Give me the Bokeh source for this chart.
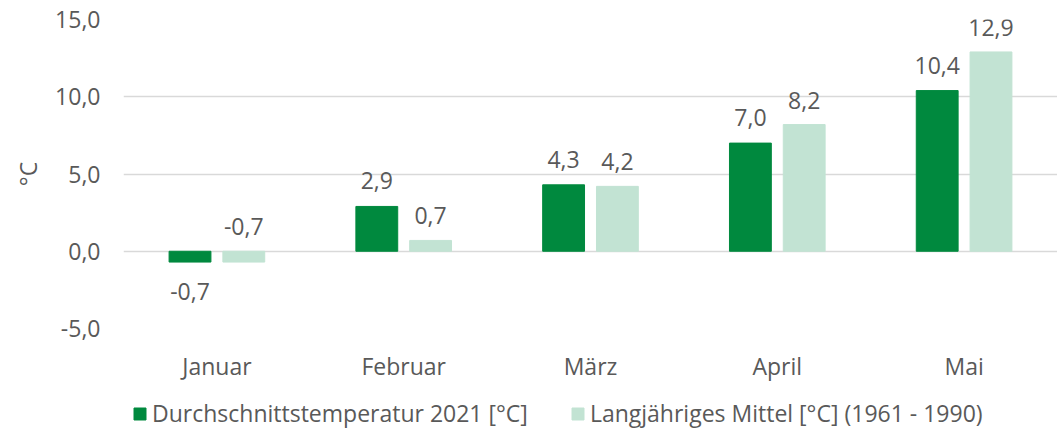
from bokeh.plotting import figure
from bokeh.layouts import column
from bokeh.models import (ColumnDataSource, FactorRange, Range1d, FixedTicker,
                          CustomJSTickFormatter, Legend, LegendItem)
from bokeh.transform import dodge
from bokeh.core.properties import value
from bokeh.embed import file_html
from bokeh.resources import INLINE

months = ["Januar", "Februar", "März", "April", "Mai"]
temp_2021 = [-0.7, 2.9, 4.3, 7.0, 10.4]
mean_1961_1990 = [-0.7, 0.7, 4.2, 8.2, 12.9]
y_ticks = [-5, 0, 5, 10, 15]
series_names = ["Durchschnittstemperatur 2021 [°C]",
                "Langjähriges Mittel [°C] (1961 - 1990)"]

DARK = "#00893E"
LIGHT = "#C2E3D3"
TEXT = "#595959"
FONT = "Open Sans"
FS = "23px"

def fmt(v):
    return f"{v:.1f}".replace(".", ",")

src = ColumnDataSource(dict(
    month=months,
    t21=temp_2021,
    mean=mean_1961_1990,
    t21_lbl=[fmt(v) for v in temp_2021],
    mean_lbl=[fmt(v) for v in mean_1961_1990],
    t21_pos=[v if v >= 0 else float("nan") for v in temp_2021],
    t21_neg=[v if v < 0 else float("nan") for v in temp_2021],
    mean_pos=[max(v, 0) for v in mean_1961_1990],
))

x_range = FactorRange(*months)
LEFT = 123
FW = 934

p = figure(x_range=x_range, y_range=Range1d(-5, 15),
           frame_width=FW, frame_height=309, output_backend="svg", toolbar_location=None,
           min_border_left=LEFT, min_border_top=19, min_border_right=0,
           min_border_bottom=0)

p.outline_line_color = None
p.background_fill_color = "white"
p.border_fill_color = "white"

p.vbar(x=dodge("month", -0.144, range=x_range), top="t21", bottom=0,
       width=0.224, color=DARK, source=src)
p.vbar(x=dodge("month", 0.144, range=x_range), top="mean", bottom=0,
       width=0.224, color=LIGHT, source=src)

# value labels
p.text(x=dodge("month", -0.144, range=x_range), y="t21_pos", text="t21_lbl",
       source=src, text_align="center", text_baseline="bottom", y_offset=-17,
       text_font=value(FONT), text_font_size=FS, text_color=TEXT)
p.text(x=dodge("month", -0.144, range=x_range), y="t21_neg", text="t21_lbl",
       source=src, text_align="center", text_baseline="top", y_offset=21,
       text_font=value(FONT), text_font_size=FS, text_color=TEXT)
p.text(x=dodge("month", 0.144, range=x_range), y="mean_pos", text="mean_lbl",
       source=src, text_align="center", text_baseline="bottom", y_offset=-16,
       text_font=value(FONT), text_font_size=FS, text_color=TEXT)

# axes
p.yaxis.ticker = FixedTicker(ticks=y_ticks)
p.yaxis.formatter = CustomJSTickFormatter(code="return tick.toFixed(1).replace('.', ',');")
p.yaxis.axis_line_color = None
p.yaxis.major_tick_line_color = None
p.yaxis.minor_tick_line_color = None
p.yaxis.major_tick_out = 0
p.yaxis.major_label_standoff = 23
p.yaxis.major_label_text_font = FONT
p.yaxis.major_label_text_font_size = FS
p.yaxis.major_label_text_color = TEXT
p.yaxis.axis_label = "°C"
p.yaxis.axis_label_text_font = FONT
p.yaxis.axis_label_text_font_size = FS
p.yaxis.axis_label_text_font_style = "normal"
p.yaxis.axis_label_text_color = TEXT
p.yaxis.axis_label_standoff = 8

p.xaxis.axis_line_color = None
p.xaxis.major_tick_line_color = None
p.xaxis.minor_tick_line_color = None
p.xaxis.major_tick_out = 0
p.xaxis.major_label_standoff = 21
p.xaxis.major_label_text_font = FONT
p.xaxis.major_label_text_font_size = FS
p.xaxis.major_label_text_color = TEXT

p.xgrid.grid_line_color = None
p.ygrid.grid_line_color = "#D9D9D9"
p.ygrid.grid_line_width = 1.5

# legend in its own strip below the chart (its bars lie outside the strip's y-range)
lf = figure(x_range=x_range, y_range=Range1d(100, 101),
            frame_width=FW, frame_height=48, min_border_left=LEFT,
            min_border_right=0, min_border_top=0, min_border_bottom=0,
            x_axis_type=None, y_axis_type=None,
            output_backend="svg", toolbar_location=None)
lf.grid.grid_line_color = None
lf.outline_line_color = None
lf.background_fill_color = "white"
lf.border_fill_color = "white"
lr1 = lf.vbar(x=dodge("month", -0.144, range=x_range), top="t21", bottom=0,
              width=0.224, color=DARK, source=src)
lr2 = lf.vbar(x=dodge("month", 0.144, range=x_range), top="mean", bottom=0,
              width=0.224, color=LIGHT, source=src)
legend = Legend(items=[
    LegendItem(label=series_names[0], renderers=[lr1]),
    LegendItem(label=series_names[1], renderers=[lr2]),
], orientation="horizontal", location=(9, 3))
legend.label_text_font = FONT
legend.label_text_font_size = FS
legend.label_text_color = TEXT
legend.glyph_width = 15
legend.glyph_height = 15
legend.label_standoff = 5
legend.spacing = 42
legend.border_line_color = None
legend.background_fill_alpha = 0
legend.padding = 0
legend.margin = 0
lf.add_layout(legend, "center")

layout = column(p, lf, spacing=0)
open("out.html", "w").write(file_html(layout, INLINE))
